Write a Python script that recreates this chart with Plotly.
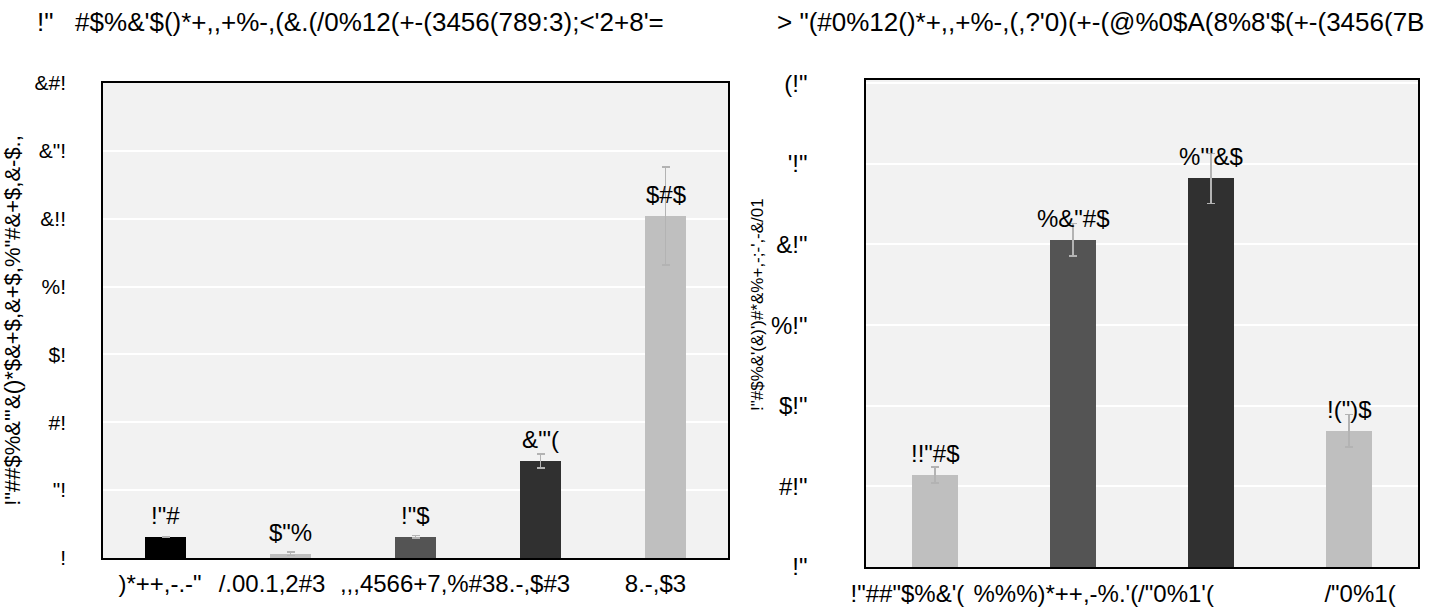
import plotly.graph_objects as go

# ---------- data: left panel ----------
left_title = '!"\u00a0\u00a0\u00a0#$%&\'$()*+,,+%-,(&.(/0%12(+-(3456(789:3);<\'2+8\'='
left_ytitle = '!"##$%&"\'&()*$&+$,&+$,%"#&+$,&-$.,'
left_tickpos = [-0.044, 0.852, 2.316, 3.92]
left_ticklabels = [')*++,-.-"', '/.00.1,2#3', ',,,4566+7,%#38.-,$#3', '8.-,$3']
left_values = [6.2, 1.2, 6.3, 28.6, 100.8]
left_errors = [0.0, 0.5, 0.4, 2.0, 14.4]
left_barlabels = ['!"#', '$"%', '!"$', '&\'"(', '$#$']
left_colors = ['#000000', '#bfbfbf', '#545454', '#303030', '#bfbfbf']
left_yticks = [0, 20, 40, 60, 80, 100, 120, 140]
left_yticktext = ['!', '"!', '#!', '$!', '%!', '&!!', '&"!', '&#!']

# ---------- data: right panel ----------
right_title = '> "(#0%12()*+,,+%-,(,?\'0)(+-(@%0$A(8%8\'$(+-(3456(7B'
right_ytitle = '!"#$%&\'(&)\')#*&%+,-;-\',-&/01'
right_tickpos = [-0.2, 1.15, 3.08]
right_ticklabels = ['!"##"$%&\'(', '%%%)*++,-%.\'(/"0%1\'(', '/"0%1(']
right_values = [1.14, 4.06, 4.82, 1.69]
right_errors = [0.1, 0.2, 0.31, 0.2]
right_barlabels = ['!!"#$', '%&"#$', '%\'"&$', '!(")$']
right_colors = ['#bfbfbf', '#545454', '#303030', '#bfbfbf']
right_yticks = [0, 1, 2, 3, 4, 5, 6]
right_yticktext = ['!"', '#!"', '$!"', '%!"', '&!"', '\'!"', '(!"']

FONT = 'Liberation Sans, Arial, sans-serif'
FS = 24
FT = 26
ERR = '#b3b3b3'

fig = go.Figure()

lx = list(range(len(left_values)))
rx = list(range(len(right_values)))

fig.add_trace(go.Bar(
    x=lx, y=left_values, width=0.33, marker=dict(color=left_colors, line=dict(width=0)),
    error_y=dict(type='data', array=left_errors, color=ERR, thickness=1.5, width=4),
    xaxis='x', yaxis='y', showlegend=False, hoverinfo='skip'))
fig.add_trace(go.Bar(
    x=rx, y=right_values, width=0.33, marker=dict(color=right_colors, line=dict(width=0)),
    error_y=dict(type='data', array=right_errors, color=ERR, thickness=1.5, width=4),
    xaxis='x2', yaxis='y2', showlegend=False, hoverinfo='skip'))

ann = []
for xi, v, t in zip(lx, left_values, left_barlabels):
    ann.append(dict(x=xi, y=v, xref='x', yref='y', text=t, showarrow=False,
                    yanchor='bottom', yshift=6, font=dict(size=FS, color='#000', family=FONT)))
for xi, v, t in zip(rx, right_values, right_barlabels):
    ann.append(dict(x=xi, y=v, xref='x2', yref='y2', text=t, showarrow=False,
                    yanchor='bottom', yshift=6, font=dict(size=FS, color='#000', family=FONT)))
ann.append(dict(x=35 / 1455, y=1 - 22 / 607, xref='paper', yref='paper', text=left_title,
                showarrow=False, xanchor='left', yanchor='middle',
                font=dict(size=FT, color='#000', family=FONT)))
ann.append(dict(x=775 / 1455, y=1 - 22 / 607, xref='paper', yref='paper', text=right_title,
                showarrow=False, xanchor='left', yanchor='middle',
                font=dict(size=FT, color='#000', family=FONT)))
ann.append(dict(x=757 / 1455, y=1 - 305 / 607, xref='paper', yref='paper', text=right_ytitle,
                showarrow=False, xanchor='center', yanchor='middle', textangle=-90,
                font=dict(size=17, color='#000', family=FONT)))

axis_common = dict(showline=True, linecolor='#000', linewidth=1.5, mirror=True,
                   zeroline=False, tickfont=dict(size=FS, color='#000', family=FONT),
                   ticks='', fixedrange=True, automargin=False)

fig.update_layout(
    width=1455, height=607, margin=dict(l=0, r=0, t=0, b=0, autoexpand=False),
    paper_bgcolor='white', plot_bgcolor='#f2f2f2',
    bargap=0, annotations=ann,
    xaxis=dict(domain=[103 / 1455, 728 / 1455], anchor='y', range=[-0.5, 4.5],
               tickvals=left_tickpos, ticktext=left_ticklabels, showgrid=False, tickangle=0,
               ticklabelstandoff=3, **axis_common),
    xaxis3=dict(overlaying='x', anchor='y', range=[-0.5, 4.5], tickvals=[0.5, 1.5, 2.5, 3.5],
                showticklabels=False, showgrid=True, gridcolor='white', gridwidth=1.5,
                showline=False, zeroline=False, fixedrange=True),
    yaxis=dict(domain=[1 - 558 / 607, 1 - 83 / 607], anchor='x', range=[0, 140],
               tickvals=left_yticks, ticktext=left_yticktext, showgrid=True,
               gridcolor='white', gridwidth=1.5, ticklabelstandoff=31,
               title=dict(text=left_ytitle, font=dict(size=22, color='#000', family=FONT), standoff=9),
               **{**axis_common, 'tickfont': dict(size=21, color='#000', family=FONT)}),
    xaxis2=dict(domain=[866 / 1455, 1418 / 1455], anchor='y2', range=[-0.5, 3.5],
                tickvals=right_tickpos, ticktext=right_ticklabels, showgrid=False, tickangle=0,
                ticklabelstandoff=4, **axis_common),
    xaxis4=dict(overlaying='x2', anchor='y2', range=[-0.5, 3.5], tickvals=[0.5, 1.5, 2.5],
                showticklabels=False, showgrid=True, gridcolor='white', gridwidth=1.5,
                showline=False, zeroline=False, fixedrange=True),
    yaxis2=dict(domain=[1 - 567 / 607, 1 - 80 / 607], anchor='x2', range=[0, 6.04],
                tickvals=right_yticks, ticktext=right_yticktext, showgrid=True,
                gridcolor='white', gridwidth=1.5, ticklabelstandoff=52,
                **axis_common),
)

fig.write_html('out.html')
